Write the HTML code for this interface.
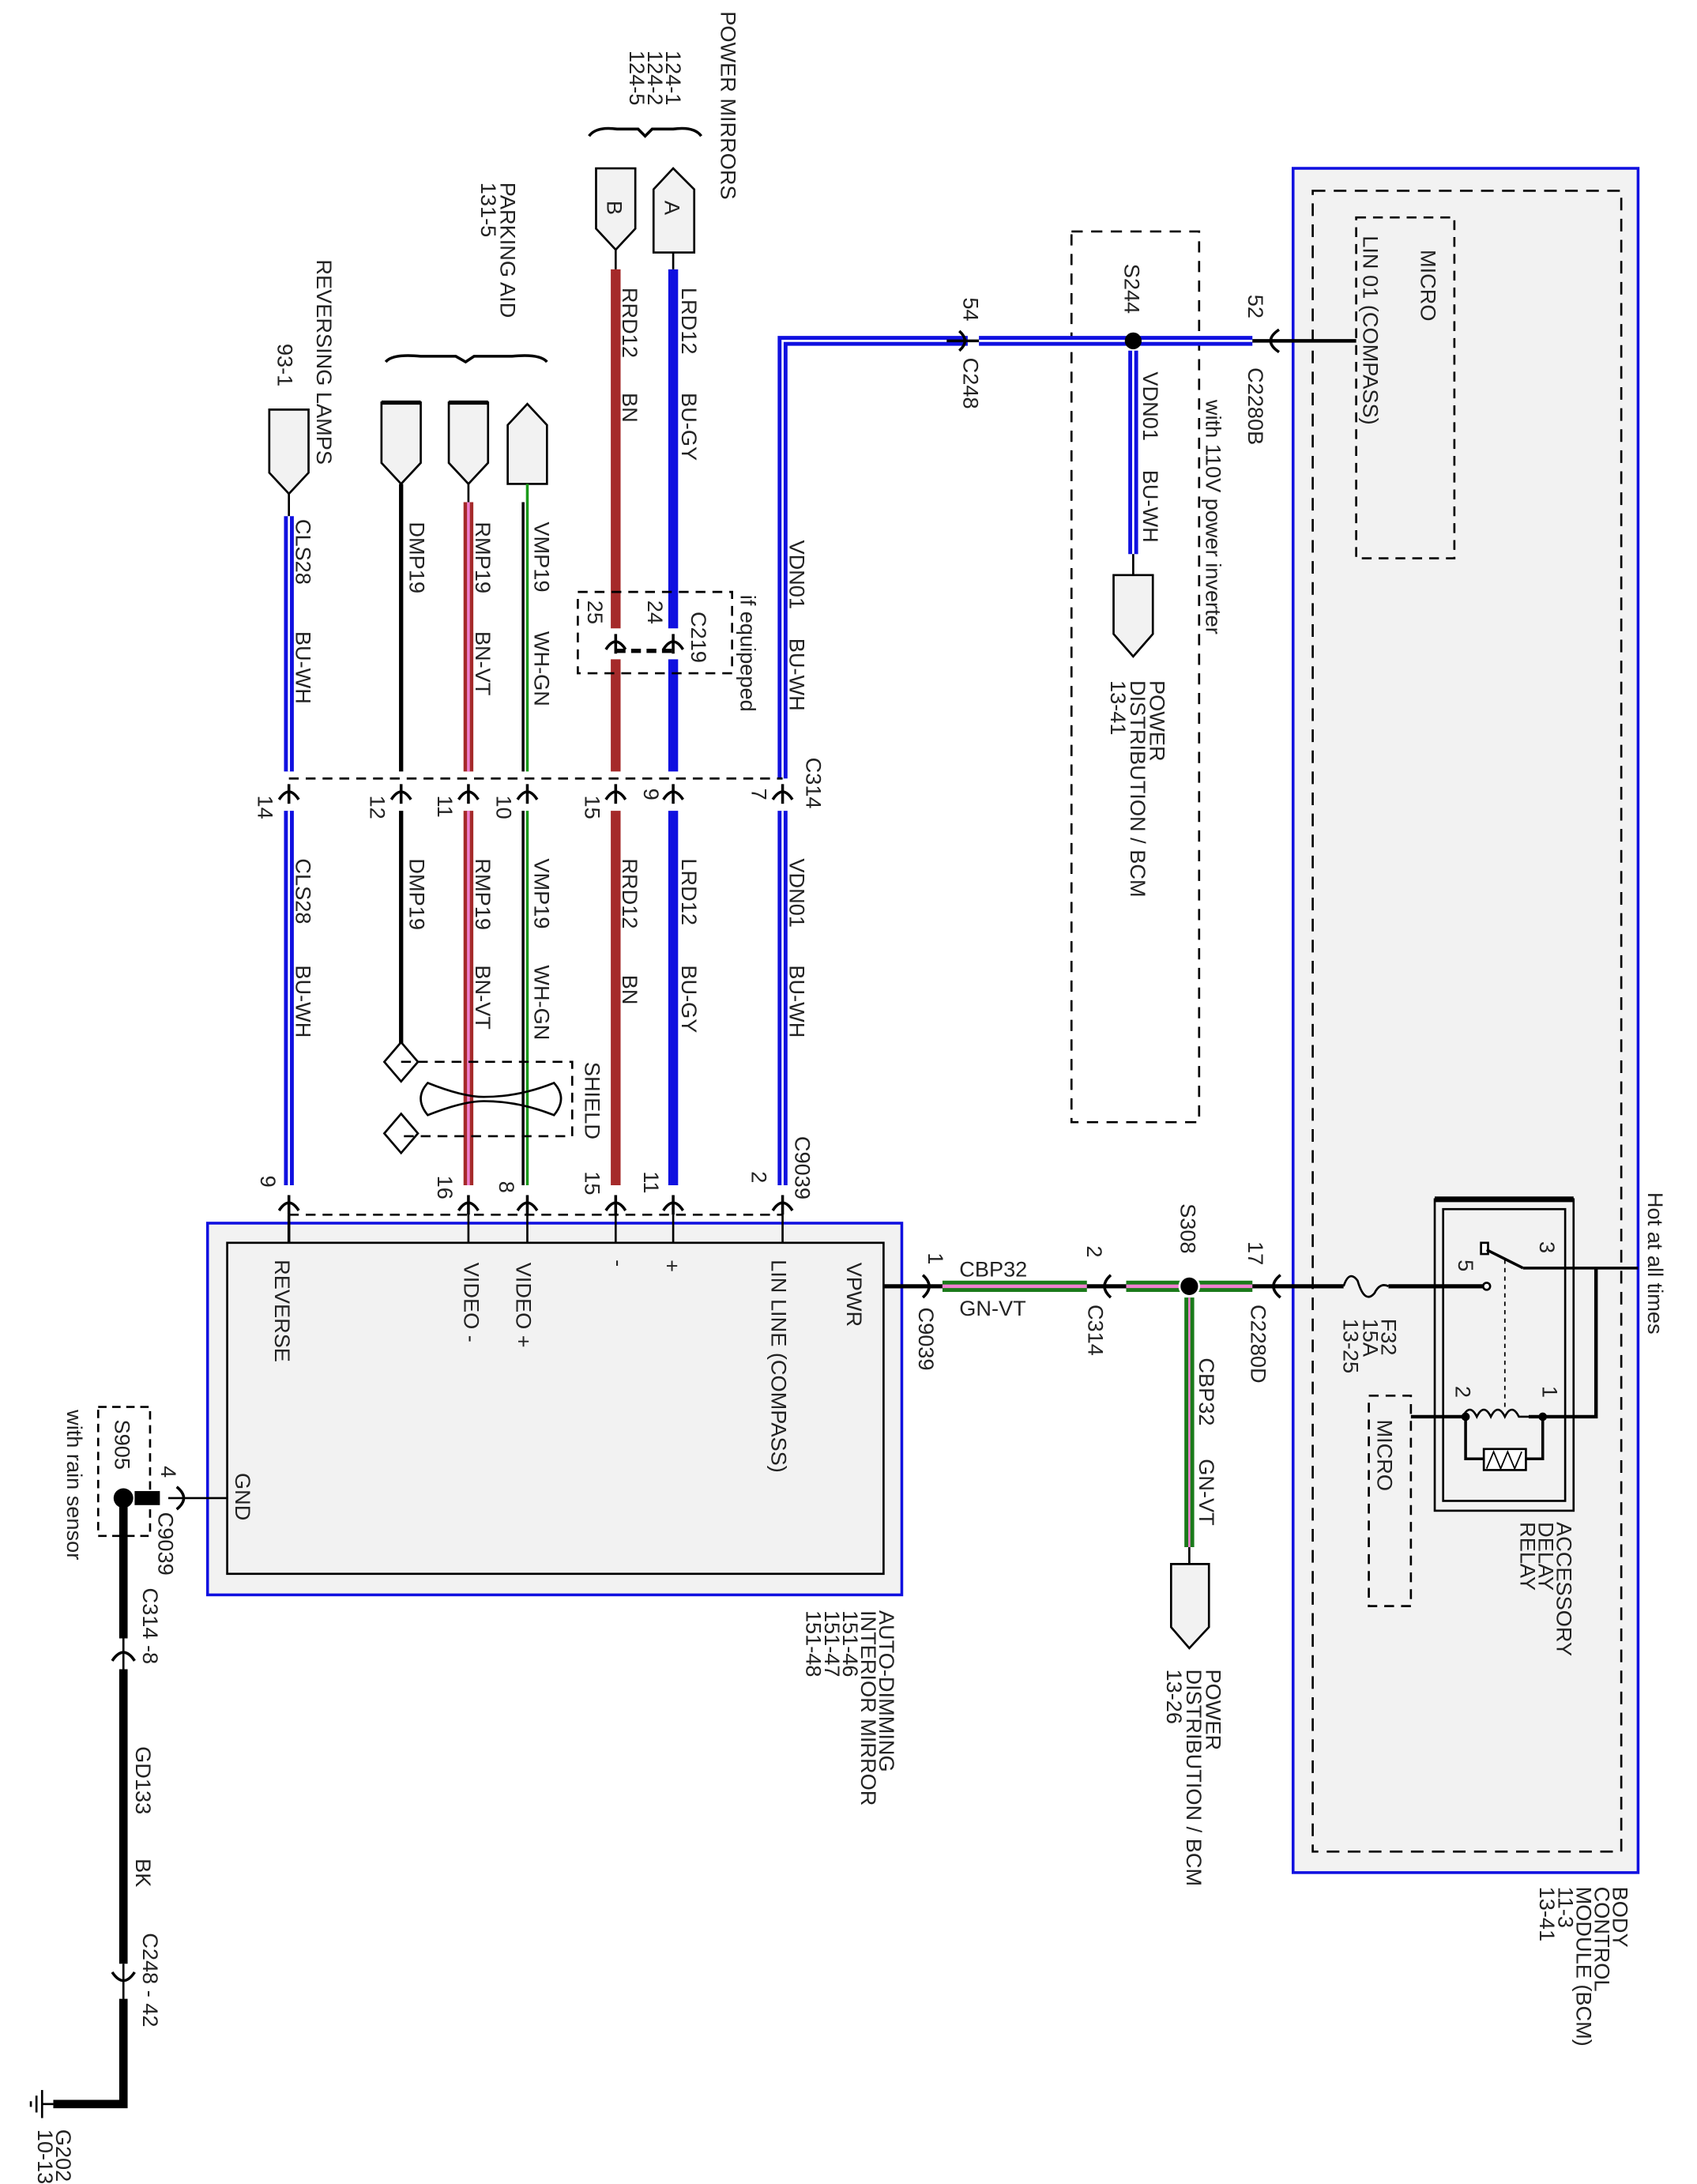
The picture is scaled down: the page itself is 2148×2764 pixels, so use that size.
<!DOCTYPE html>
<html><head><meta charset="utf-8"><style>
html,body{margin:0;padding:0;background:#fff;}
svg{display:block;}
text{font-family:"Liberation Sans",sans-serif;font-size:15.3px;fill:#222;}
</style></head><body>
<svg width="2148" height="2764" viewBox="0 0 1210 1557" preserveAspectRatio="none" xmlns="http://www.w3.org/2000/svg">
<defs>
<g id="rd"><path d="M-7,5 Q0,-6 7,5" fill="none" stroke="#000" stroke-width="2"/><line x1="0" y1="-6" x2="0" y2="8" stroke="#000" stroke-width="2"/></g>
</defs>
<rect width="1210" height="1557" fill="#fff"/>

<!-- BCM -->
<rect x="922" y="120" width="246" height="1215" fill="#f2f2f2" stroke="#1010e0" stroke-width="2"/>
<rect x="936" y="136" width="220" height="1184" fill="none" stroke="#000" stroke-width="1.5" stroke-dasharray="9,6"/>
<rect x="967" y="155" width="70" height="243" fill="none" stroke="#000" stroke-width="1.5" stroke-dasharray="7,5"/>
<rect x="976" y="995" width="30" height="150" fill="none" stroke="#000" stroke-width="1.5" stroke-dasharray="7,5"/>
<rect x="1023" y="855" width="99" height="222" fill="#f2f2f2" stroke="#000" stroke-width="1.5"/>
<line x1="1023" y1="855" x2="1122" y2="855" stroke="#000" stroke-width="4"/>
<rect x="1029" y="862" width="87" height="208" fill="none" stroke="#000" stroke-width="1.5"/>

<!-- S244 box -->
<rect x="764" y="165" width="91" height="635" fill="none" stroke="#000" stroke-width="1.5" stroke-dasharray="8,6"/>

<!-- mirror box -->
<rect x="148" y="872" width="495" height="265" fill="#f2f2f2" stroke="#1010e0" stroke-width="2"/>
<rect x="162" y="886" width="468" height="236" fill="#f2f2f2" stroke="#000" stroke-width="1.5"/>

<!-- top horizontal double blue -->
<path d="M558,555 L558,243 L690,243" fill="none" stroke="#1010e0" stroke-width="7"/>
<path d="M558,555 L558,243 L690,243" fill="none" stroke="#fff" stroke-width="1.5"/>
<line x1="698" y1="243" x2="893" y2="243" stroke="#1010e0" stroke-width="7"/>
<line x1="698" y1="243" x2="893" y2="243" stroke="#fff" stroke-width="1.5"/>
<line x1="675" y1="243" x2="698" y2="243" stroke="#000" stroke-width="2"/>
<path d="M684,236 Q692,243 684,250" fill="none" stroke="#000" stroke-width="2"/>
<line x1="893" y1="243" x2="967" y2="243" stroke="#000" stroke-width="2.5"/>
<path d="M912,235 Q900,243 912,251" fill="none" stroke="#000" stroke-width="2"/>
<circle cx="808" cy="243" r="6" fill="#000"/>
<line x1="808" y1="250" x2="808" y2="395" stroke="#1010e0" stroke-width="7"/>
<line x1="808" y1="250" x2="808" y2="395" stroke="#fff" stroke-width="1.5"/>
<line x1="808" y1="395" x2="808" y2="410" stroke="#000" stroke-width="1.5"/>
<path d="M794,410 L822,410 L822,452 L808,468 L794,452 Z" fill="#f2f2f2" stroke="#000" stroke-width="1.5"/>

<!-- connectors top -->
<path d="M466,135 L480,120 L495,135 L495,180 L466,180 Z" fill="#f2f2f2" stroke="#000" stroke-width="1.5"/>
<path d="M425,120 L453,120 L453,163 L439,178 L425,163 Z" fill="#f2f2f2" stroke="#000" stroke-width="1.5"/>
<text transform="translate(474,143) rotate(90)">A</text>
<text transform="translate(433,143) rotate(90)">B</text>
<path d="M420,97 Q425,90 440,92 L455,92 L460,97 L465,92 L480,92 Q495,90 500,97" fill="none" stroke="#000" stroke-width="2"/>
<path d="M275,258 Q280,252 300,254 L325,254 L332,258 L338,254 L365,254 Q385,252 390,258" fill="none" stroke="#000" stroke-width="2"/>
<path d="M192,292 L220,292 L220,337 L206,352 L192,337 Z" fill="#f2f2f2" stroke="#000" stroke-width="1.5"/>
<path d="M272,287 L300,287 L300,330 L286,345 L272,330 Z" fill="#f2f2f2" stroke="#000" stroke-width="1.5"/>
<line x1="272" y1="287" x2="300" y2="287" stroke="#000" stroke-width="3"/>
<path d="M320,287 L348,287 L348,330 L334,345 L320,330 Z" fill="#f2f2f2" stroke="#000" stroke-width="1.5"/>
<line x1="320" y1="287" x2="348" y2="287" stroke="#000" stroke-width="3"/>
<path d="M362,303 L376,288 L390,303 L390,345 L362,345 Z" fill="#f2f2f2" stroke="#000" stroke-width="1.5"/>

<!-- wires upper -->
<line x1="480" y1="180" x2="480" y2="192" stroke="#000" stroke-width="1.5"/>
<line x1="480" y1="192" x2="480" y2="448" stroke="#1010e0" stroke-width="7"/>
<line x1="439" y1="178" x2="439" y2="192" stroke="#000" stroke-width="1.5"/>
<line x1="439" y1="192" x2="439" y2="448" stroke="#a52a2a" stroke-width="7"/>
<line x1="480" y1="470" x2="480" y2="550" stroke="#1010e0" stroke-width="7"/>
<line x1="439" y1="470" x2="439" y2="550" stroke="#a52a2a" stroke-width="7"/>
<line x1="206" y1="352" x2="206" y2="368" stroke="#000" stroke-width="1.5"/>
<line x1="206" y1="368" x2="206" y2="550" stroke="#1010e0" stroke-width="7"/>
<line x1="206" y1="368" x2="206" y2="550" stroke="#fff" stroke-width="1.5"/>
<line x1="286" y1="345" x2="286" y2="550" stroke="#000" stroke-width="3"/>
<line x1="334" y1="345" x2="334" y2="358" stroke="#000" stroke-width="1.5"/>
<line x1="334" y1="358" x2="334" y2="550" stroke="#a52a2a" stroke-width="7"/>
<line x1="334" y1="358" x2="334" y2="550" stroke="#f080d0" stroke-width="2"/>
<line x1="376" y1="345" x2="376" y2="550" stroke="#1a9a1a" stroke-width="2"/>
<line x1="373" y1="358" x2="373" y2="550" stroke="#000" stroke-width="2"/>

<!-- C219 -->
<rect x="412" y="422" width="110" height="58" fill="none" stroke="#000" stroke-width="1.5" stroke-dasharray="7,5"/>
<line x1="439" y1="464" x2="480" y2="464" stroke="#000" stroke-width="3" stroke-dasharray="7,4"/>
<use href="#rd" x="439" y="458"/><use href="#rd" x="480" y="458"/>

<!-- C314 -->
<line x1="206" y1="555" x2="558" y2="555" stroke="#000" stroke-width="1.5" stroke-dasharray="7,5"/>
<use href="#rd" x="206" y="565"/><use href="#rd" x="286" y="565"/><use href="#rd" x="334" y="565"/><use href="#rd" x="376" y="565"/><use href="#rd" x="439" y="565"/><use href="#rd" x="480" y="565"/><use href="#rd" x="558" y="565"/>

<!-- wires lower -->
<line x1="558" y1="578" x2="558" y2="845" stroke="#1010e0" stroke-width="7"/>
<line x1="558" y1="578" x2="558" y2="845" stroke="#fff" stroke-width="1.5"/>
<line x1="480" y1="578" x2="480" y2="845" stroke="#1010e0" stroke-width="7"/>
<line x1="439" y1="578" x2="439" y2="845" stroke="#a52a2a" stroke-width="7"/>
<line x1="376" y1="578" x2="376" y2="845" stroke="#1a9a1a" stroke-width="2"/>
<line x1="373" y1="578" x2="373" y2="845" stroke="#000" stroke-width="2"/>
<line x1="334" y1="578" x2="334" y2="845" stroke="#a52a2a" stroke-width="7"/>
<line x1="334" y1="578" x2="334" y2="845" stroke="#f080d0" stroke-width="2"/>
<line x1="286" y1="578" x2="286" y2="750" stroke="#000" stroke-width="3"/>
<line x1="206" y1="578" x2="206" y2="845" stroke="#1010e0" stroke-width="7"/>
<line x1="206" y1="578" x2="206" y2="845" stroke="#fff" stroke-width="1.5"/>

<!-- shield -->
<path d="M286,743 L298,757 L286,771 L274,757 Z" fill="#fff" stroke="#000" stroke-width="1.5"/>
<path d="M286,794 L298,808 L286,822 L274,808 Z" fill="#fff" stroke="#000" stroke-width="1.5"/>
<path d="M286,757 L408,757 L408,810 L286,810" fill="none" stroke="#000" stroke-width="1.5" stroke-dasharray="7,5"/>
<path d="M305,772 Q295,783 305,795 Q330,785 345,785 Q370,785 395,795 Q405,783 395,772 Q370,782 345,782 Q330,782 305,772 Z" fill="none" stroke="#000" stroke-width="1.5"/>

<!-- C9039 top -->
<use href="#rd" x="206" y="858"/><use href="#rd" x="334" y="858"/><use href="#rd" x="376" y="858"/><use href="#rd" x="439" y="858"/><use href="#rd" x="480" y="858"/><use href="#rd" x="558" y="858"/>
<line x1="206" y1="866" x2="558" y2="866" stroke="#000" stroke-width="1.5" stroke-dasharray="7,5"/>
<g stroke="#000" stroke-width="1.5"><line x1="206" y1="866" x2="206" y2="886" stroke-width="2"/><line x1="334" y1="866" x2="334" y2="886"/><line x1="376" y1="866" x2="376" y2="886"/><line x1="439" y1="866" x2="439" y2="886"/><line x1="480" y1="866" x2="480" y2="886"/><line x1="558" y1="866" x2="558" y2="886"/></g>

<!-- VPWR -->
<line x1="630" y1="917" x2="672" y2="917" stroke="#000" stroke-width="3"/>
<path d="M658,909 Q667,917 658,925" fill="none" stroke="#000" stroke-width="2"/>
<line x1="672" y1="917" x2="775" y2="917" stroke="#1a7a1a" stroke-width="8"/>
<line x1="672" y1="917" x2="775" y2="917" stroke="#f080d0" stroke-width="2.5"/>
<line x1="775" y1="917" x2="803" y2="917" stroke="#000" stroke-width="3"/>
<path d="M792,909 Q783,917 792,925" fill="none" stroke="#000" stroke-width="2"/>
<line x1="803" y1="917" x2="893" y2="917" stroke="#1a7a1a" stroke-width="8"/>
<line x1="803" y1="917" x2="893" y2="917" stroke="#f080d0" stroke-width="2.5"/>
<circle cx="848" cy="917" r="7" fill="#000" stroke="#fff" stroke-width="1.5"/>
<line x1="893" y1="917" x2="958" y2="917" stroke="#000" stroke-width="3"/>
<path d="M913,909 Q903,917 913,925" fill="none" stroke="#000" stroke-width="2"/>
<path d="M958,917 Q962,905 968,913 Q973,930 980,922 Q984,914 990,917" fill="none" stroke="#000" stroke-width="1.5"/>
<line x1="990" y1="917" x2="1058" y2="917" stroke="#000" stroke-width="3"/>
<circle cx="1060" cy="917" r="2.5" fill="#fff" stroke="#000" stroke-width="1.5"/>
<line x1="848" y1="925" x2="848" y2="1103" stroke="#1a7a1a" stroke-width="7"/>
<line x1="848" y1="925" x2="848" y2="1103" stroke="#f080d0" stroke-width="1.5"/>
<line x1="848" y1="1103" x2="848" y2="1115" stroke="#000" stroke-width="1.5"/>
<path d="M835,1115 L862,1115 L862,1160 L848,1175 L835,1160 Z" fill="#f2f2f2" stroke="#000" stroke-width="1.5"/>

<!-- relay -->
<rect x="1056" y="886" width="5" height="8" fill="#fff" stroke="#000" stroke-width="1.5"/>
<line x1="1060" y1="891" x2="1086" y2="904" stroke="#000" stroke-width="2"/>
<line x1="1086" y1="904" x2="1168" y2="904" stroke="#000" stroke-width="2"/>
<line x1="1073" y1="898" x2="1073" y2="1003" stroke="#000" stroke-width="1" stroke-dasharray="3,3"/>
<path d="M1006,1010 L1043,1010 M1090,1010 L1138,1010 L1138,904" fill="none" stroke="#000" stroke-width="2.5"/>
<path d="M1043,1010 Q1048,1000 1053,1010 Q1058,1000 1063,1010 Q1068,1000 1073,1010 Q1078,1000 1083,1010 L1090,1010" fill="none" stroke="#000" stroke-width="1.5"/>
<circle cx="1045" cy="1010" r="3" fill="#000"/><circle cx="1100" cy="1010" r="3" fill="#000"/>
<path d="M1045,1010 L1045,1040 L1058,1040 M1088,1040 L1100,1040 L1100,1010" fill="none" stroke="#000" stroke-width="2"/>
<rect x="1058" y="1033" width="30" height="15" fill="#fff" stroke="#000" stroke-width="1.5"/>
<path d="M1060,1047 L1065,1035 L1070,1047 L1075,1035 L1080,1047 L1085,1035" fill="none" stroke="#000" stroke-width="1"/>

<!-- ground -->
<rect x="70" y="1003" width="37" height="92" fill="none" stroke="#000" stroke-width="1.5" stroke-dasharray="6,4"/>
<line x1="162" y1="1068" x2="120" y2="1068" stroke="#000" stroke-width="1.5"/>
<path d="M126,1060 Q136,1068 126,1076" fill="none" stroke="#000" stroke-width="2"/>
<rect x="96" y="1063" width="18" height="10" fill="#000"/>
<circle cx="88" cy="1068" r="7" fill="#000"/>
<line x1="88" y1="1072" x2="88" y2="1168" stroke="#000" stroke-width="6"/>
<line x1="88" y1="1168" x2="88" y2="1190" stroke="#000" stroke-width="1.5"/>
<path d="M80,1184 Q88,1172 96,1184" fill="none" stroke="#000" stroke-width="2"/>
<line x1="88" y1="1190" x2="88" y2="1400" stroke="#000" stroke-width="6"/>
<line x1="88" y1="1400" x2="88" y2="1425" stroke="#000" stroke-width="1.5"/>
<path d="M80,1406 Q88,1418 96,1406" fill="none" stroke="#000" stroke-width="2"/>
<path d="M88,1425 L88,1500 L38,1500" fill="none" stroke="#000" stroke-width="6"/>
<line x1="38" y1="1500" x2="30" y2="1500" stroke="#000" stroke-width="1.5"/>
<line x1="30" y1="1490" x2="30" y2="1510" stroke="#000" stroke-width="1.5"/>
<line x1="26" y1="1494" x2="26" y2="1506" stroke="#000" stroke-width="1.5"/>
<line x1="22" y1="1498" x2="22" y2="1502" stroke="#000" stroke-width="1.5"/>

<!-- TEXT -->
<g>
<text transform="translate(514,8) rotate(90)">POWER MIRRORS</text>
<text transform="translate(475,36) rotate(90)">124-1</text>
<text transform="translate(462,36) rotate(90)">124-2</text>
<text transform="translate(449,36) rotate(90)">124-5</text>
<text transform="translate(357,130) rotate(90)">PARKING AID</text>
<text transform="translate(343,130) rotate(90)">131-5</text>
<text transform="translate(226,185) rotate(90)">REVERSING LAMPS</text>
<text transform="translate(198,245) rotate(90)">93-1</text>
<text transform="translate(486,205) rotate(90)">LRD12</text><text transform="translate(486,280) rotate(90)">BU-GY</text>
<text transform="translate(444,205) rotate(90)">RRD12</text><text transform="translate(444,280) rotate(90)">BN</text>
<text transform="translate(381,372) rotate(90)">VMP19</text><text transform="translate(381,450) rotate(90)">WH-GN</text>
<text transform="translate(339,372) rotate(90)">RMP19</text><text transform="translate(339,450) rotate(90)">BN-VT</text>
<text transform="translate(292,372) rotate(90)">DMP19</text>
<text transform="translate(211,370) rotate(90)">CLS28</text><text transform="translate(211,450) rotate(90)">BU-WH</text>
<text transform="translate(563,385) rotate(90)">VDN01</text><text transform="translate(563,455) rotate(90)">BU-WH</text>
<text transform="translate(493,436) rotate(90)">C219</text>
<text transform="translate(528,424) rotate(90)">if equipeped</text>
<text transform="translate(462,428) rotate(90)">24</text>
<text transform="translate(419,428) rotate(90)">25</text>
<text transform="translate(575,540) rotate(90)">C314</text>
<text transform="translate(536,562) rotate(90)">7</text>
<text transform="translate(459,562) rotate(90)">9</text>
<text transform="translate(417,567) rotate(90)">15</text>
<text transform="translate(354,567) rotate(90)">10</text>
<text transform="translate(312,567) rotate(90)">11</text>
<text transform="translate(264,567) rotate(90)">12</text>
<text transform="translate(184,567) rotate(90)">14</text>
<text transform="translate(563,612) rotate(90)">VDN01</text><text transform="translate(563,688) rotate(90)">BU-WH</text>
<text transform="translate(486,612) rotate(90)">LRD12</text><text transform="translate(486,688) rotate(90)">BU-GY</text>
<text transform="translate(444,612) rotate(90)">RRD12</text><text transform="translate(444,695) rotate(90)">BN</text>
<text transform="translate(381,612) rotate(90)">VMP19</text><text transform="translate(381,688) rotate(90)">WH-GN</text>
<text transform="translate(339,612) rotate(90)">RMP19</text><text transform="translate(339,688) rotate(90)">BN-VT</text>
<text transform="translate(292,612) rotate(90)">DMP19</text>
<text transform="translate(211,612) rotate(90)">CLS28</text><text transform="translate(211,688) rotate(90)">BU-WH</text>
<text transform="translate(417,757) rotate(90)">SHIELD</text>
<text transform="translate(567,810) rotate(90)">C9039</text>
<text transform="translate(536,835) rotate(90)">2</text>
<text transform="translate(459,835) rotate(90)">11</text>
<text transform="translate(417,835) rotate(90)">15</text>
<text transform="translate(356,842) rotate(90)">8</text>
<text transform="translate(312,838) rotate(90)">16</text>
<text transform="translate(186,838) rotate(90)">9</text>
<text transform="translate(604,900) rotate(90)">VPWR</text>
<text transform="translate(550,898) rotate(90)">LIN LINE (COMPASS)</text>
<text transform="translate(474,898) rotate(90)">+</text>
<text transform="translate(436,898) rotate(90)">-</text>
<text transform="translate(368,900) rotate(90)">VIDEO +</text>
<text transform="translate(331,900) rotate(90)">VIDEO -</text>
<text transform="translate(196,898) rotate(90)">REVERSE</text>
<text transform="translate(168,1050) rotate(90)">GND</text>
<text transform="translate(627,1148) rotate(90)">AUTO-DIMMING</text>
<text transform="translate(614,1148) rotate(90)">INTERIOR MIRROR</text>
<text transform="translate(601,1148) rotate(90)">151-46</text>
<text transform="translate(588,1148) rotate(90)">151-47</text>
<text transform="translate(575,1148) rotate(90)">151-48</text>
<text x="684" y="910">CBP32</text>
<text x="684" y="938">GN-VT</text>
<text transform="translate(662,893) rotate(90)">1</text>
<text transform="translate(655,932) rotate(90)">C9039</text>
<text transform="translate(775,888) rotate(90)">2</text>
<text transform="translate(776,930) rotate(90)">C314</text>
<text transform="translate(842,858) rotate(90)">S308</text>
<text transform="translate(890,885) rotate(90)">17</text>
<text transform="translate(892,930) rotate(90)">C2280D</text>
<text transform="translate(855,968) rotate(90)">CBP32</text><text transform="translate(855,1040) rotate(90)">GN-VT</text>
<text transform="translate(860,1190) rotate(90)">POWER</text>
<text transform="translate(846,1190) rotate(90)">DISTRIBUTION / BCM</text>
<text transform="translate(832,1190) rotate(90)">13-26</text>
<text transform="translate(985,940) rotate(90)">F32</text>
<text transform="translate(972,940) rotate(90)">15A</text>
<text transform="translate(958,940) rotate(90)">13-25</text>
<text transform="translate(1098,885) rotate(90)">3</text>
<text transform="translate(1040,898) rotate(90)">5</text>
<text transform="translate(1038,988) rotate(90)">2</text>
<text transform="translate(1100,988) rotate(90)">1</text>
<text transform="translate(982,1012) rotate(90)">MICRO</text>
<text transform="translate(1175,850) rotate(90)">Hot at all times</text>
<text transform="translate(1110,1085) rotate(90)">ACCESSORY</text>
<text transform="translate(1097,1085) rotate(90)">DELAY</text>
<text transform="translate(1084,1085) rotate(90)">RELAY</text>
<text transform="translate(1150,1345) rotate(90)">BODY</text>
<text transform="translate(1137,1345) rotate(90)">CONTROL</text>
<text transform="translate(1124,1345) rotate(90)">MODULE (BCM)</text>
<text transform="translate(1111,1345) rotate(90)">11-3</text>
<text transform="translate(1098,1345) rotate(90)">13-41</text>
<text transform="translate(1013,178) rotate(90)">MICRO</text>
<text transform="translate(972,168) rotate(90)">LIN 01 (COMPASS)</text>
<text transform="translate(890,210) rotate(90)">52</text>
<text transform="translate(890,262) rotate(90)">C2280B</text>
<text transform="translate(687,212) rotate(90)">54</text>
<text transform="translate(687,255) rotate(90)">C248</text>
<text transform="translate(802,188) rotate(90)">S244</text>
<text transform="translate(860,285) rotate(90)">with 110V power inverter</text>
<text transform="translate(815,265) rotate(90)">VDN01</text><text transform="translate(815,335) rotate(90)">BU-WH</text>
<text transform="translate(820,485) rotate(90)">POWER</text>
<text transform="translate(806,485) rotate(90)">DISTRIBUTION / BCM</text>
<text transform="translate(792,485) rotate(90)">13-41</text>
<text transform="translate(115,1045) rotate(90)">4</text>
<text transform="translate(113,1078) rotate(90)">C9039</text>
<text transform="translate(82,1012) rotate(90)">S905</text>
<text transform="translate(48,1005) rotate(90)">with rain sensor</text>
<text transform="translate(102,1132) rotate(90)">C314 -8</text>
<text transform="translate(97,1245) rotate(90)">GD133</text>
<text transform="translate(97,1325) rotate(90)">BK</text>
<text transform="translate(102,1378) rotate(90)">C248  -  42</text>
<text transform="translate(40,1518) rotate(90)">G202</text>
<text transform="translate(27,1518) rotate(90)">10-13</text>
</g>
</svg>
</body></html>
